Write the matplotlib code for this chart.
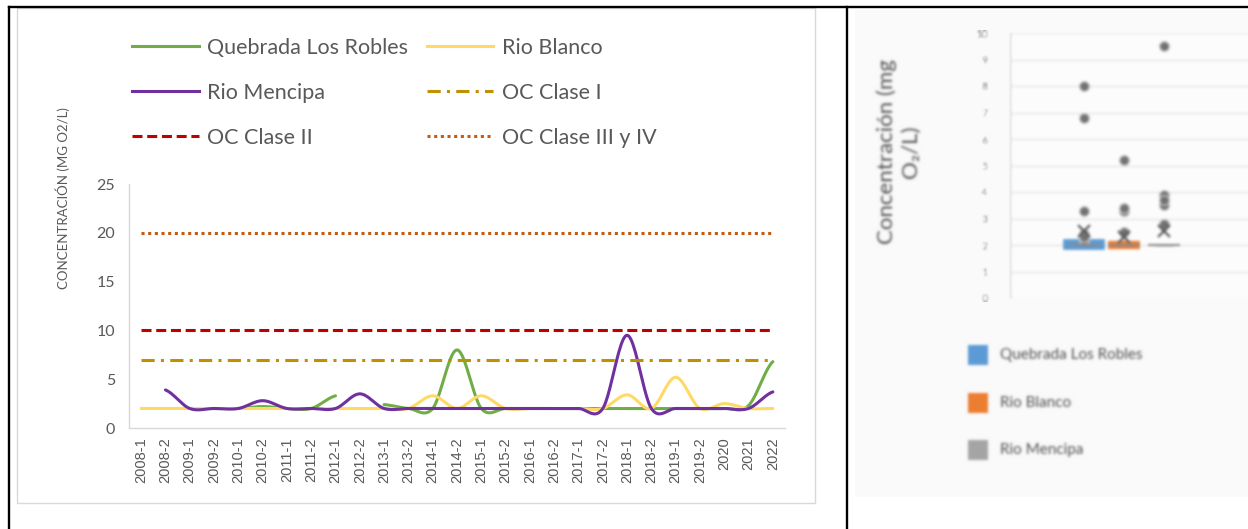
import numpy as np
import matplotlib
matplotlib.use("Agg")
import matplotlib.pyplot as plt
from matplotlib.lines import Line2D
from matplotlib.patches import Rectangle

plt.rcParams["font.family"] = ["Lato", "DejaVu Sans"]
plt.rcParams["lines.scale_dashes"] = False

nan = np.nan

# ---------------------------------------------------------------- data
periods = ["2008-1", "2008-2", "2009-1", "2009-2", "2010-1", "2010-2",
           "2011-1", "2011-2", "2012-1", "2012-2", "2013-1", "2013-2",
           "2014-1", "2014-2", "2015-1", "2015-2", "2016-1", "2016-2",
           "2017-1", "2017-2", "2018-1", "2018-2", "2019-1", "2019-2",
           "2020", "2021", "2022"]

quebrada_los_robles = [nan, nan, 2.0, 2.0, 2.0, 2.2, 2.0, 2.0, 3.3, nan,
                       2.4, 2.0, 2.0, 8.0, 2.0, 2.0, 2.0, 2.0, 2.0, 2.0,
                       2.0, 2.0, 2.0, 2.0, 2.0, 2.3, 6.8]
rio_blanco = [2.0, 2.0, 2.0, 2.0, 2.0, 2.0, 2.0, 2.0, 2.0, 2.0,
              2.0, 2.0, 3.3, 2.0, 3.3, 2.0, 2.0, 2.0, 2.0, 2.0,
              3.4, 2.0, 5.2, 2.0, 2.5, 2.0, 2.0]
rio_mencipa = [nan, 3.9, 2.0, 2.0, 2.0, 2.8, 2.0, 2.0, 2.0, 3.5,
               2.0, 2.0, 2.0, 2.0, 2.0, 2.0, 2.0, 2.0, 2.0, 2.0,
               9.5, 2.0, 2.0, 2.0, 2.0, 2.0, 3.7]

oc_clase_i = 7
oc_clase_ii = 10
oc_clase_iii_iv = 20

series_names = ["Quebrada Los Robles", "Rio Blanco", "Rio Mencipa"]

# ---------------------------------------------------------------- helpers
W, H = 1248, 529


def fx(x):
    return x / W


def fy(y):
    return 1 - y / H


def smooth(values, n=24):
    """Catmull-Rom smoothing of each contiguous run of a series."""
    y = np.asarray(values, dtype=float)
    x = np.arange(len(y), dtype=float)
    ok = np.isfinite(y)
    out_x, out_y = [], []
    i = 0
    while i < len(y):
        if not ok[i]:
            i += 1
            continue
        j = i
        while j + 1 < len(y) and ok[j + 1]:
            j += 1
        rx, ry = x[i:j + 1], y[i:j + 1]
        m = len(ry)
        if m == 1:
            out_x += [rx[0], nan]
            out_y += [ry[0], nan]
        else:
            tan = np.empty(m)
            tan[1:-1] = (ry[2:] - ry[:-2]) / 2
            tan[0] = (ry[1] - ry[0]) / 2
            tan[-1] = (ry[-1] - ry[-2]) / 2
            t = np.linspace(0, 1, n, endpoint=False)
            h00 = 2 * t**3 - 3 * t**2 + 1
            h10 = t**3 - 2 * t**2 + t
            h01 = -2 * t**3 + 3 * t**2
            h11 = t**3 - t**2
            for k in range(m - 1):
                out_x += list(rx[k] + t)
                out_y += list(h00 * ry[k] + h10 * tan[k] + h01 * ry[k + 1] + h11 * tan[k + 1])
            out_x += [rx[-1], nan]
            out_y += [ry[-1], nan]
        i = j + 1
    return np.array(out_x), np.array(out_y)


def gaussian_blur(sigma):
    r = int(np.ceil(3 * sigma))
    k = np.exp(-0.5 * (np.arange(-r, r + 1) / sigma) ** 2)
    k /= k.sum()

    def process(img, dpi):
        a = np.pad(img, ((2 * r, 2 * r), (2 * r, 2 * r), (0, 0)), mode="edge")
        h, w = a.shape[:2]
        b = np.zeros((h, w - 2 * r, img.shape[2]))
        for i, kv in enumerate(k):
            b += kv * a[:, i:i + w - 2 * r]
        c = np.zeros((h - 2 * r, w - 2 * r, img.shape[2]))
        for i, kv in enumerate(k):
            c += kv * b[i:i + h - 2 * r]
        return c[r:-r, r:-r], 0, 0

    return process


TEXT = "#595959"
GREEN, YELLOW, PURPLE = "#70ad47", "#ffd966", "#7030a0"
GOLD, RED, ORANGE = "#bf9000", "#c00000", "#c55a11"

style_series = [dict(color=GREEN), dict(color=YELLOW), dict(color=PURPLE)]
style_limits = [
    dict(color=GOLD, dashes=(9.5, 4.5, 2.2, 4.5), dash_capstyle="butt"),
    dict(color=RED, dashes=(7.2, 3.4), dash_capstyle="butt"),
    dict(color=ORANGE, dashes=(2.2, 2.6), dash_capstyle="butt"),
]
LW = 2.2

fig = plt.figure(figsize=(W / 100, H / 100), dpi=100)
fig.patch.set_facecolor("white")

# ---------------------------------------------------------------- left chart
fig.add_artist(Rectangle((fx(17), fy(503)), (815 - 17) / W, (503 - 8) / H,
                         transform=fig.transFigure, facecolor="white",
                         edgecolor="#d9d9d9", lw=1.0, zorder=0))

ax = fig.add_axes([fx(129), fy(428), (785 - 129) / W, (428 - 184) / H])
ax.set_facecolor("none")
xpos = np.arange(len(periods))

for vals, st in zip([quebrada_los_robles, rio_blanco, rio_mencipa], style_series):
    sx, sy = smooth(vals)
    ax.plot(sx, sy, lw=LW, solid_capstyle="round", **st)

for lvl, st in zip([oc_clase_i, oc_clase_ii, oc_clase_iii_iv], style_limits):
    ax.plot(xpos, np.full(len(xpos), lvl, dtype=float), lw=LW, **st)

ax.set_xlim(-0.5, len(periods) - 0.5)
ax.set_ylim(0, 25)
ax.set_yticks([0, 5, 10, 15, 20, 25])
ax.set_xticks(xpos)
ax.set_xticklabels(periods, rotation=90, ha="center", va="top",
                   fontsize=10.5, color=TEXT, family=["Liberation Sans"])
ax.tick_params(axis="x", length=0, pad=6.5)
ax.tick_params(axis="y", length=0, pad=10, labelsize=11.5, labelcolor=TEXT)
for s in ["top", "right"]:
    ax.spines[s].set_visible(False)
for s in ["left", "bottom"]:
    ax.spines[s].set_color("#d9d9d9")
    ax.spines[s].set_linewidth(1.0)

fig.text(fx(63), fy(198), "CONCENTRACIÓN (MG O2/L)", rotation=90,
         ha="center", va="center", fontsize=9.5, color=TEXT)

# legend, two columns
legend_rows = [46, 91, 136]
col_line = [(132, 199, 207), (427, 493, 502)]
legend_items = [
    (series_names[0], style_series[0]), (series_names[1], style_series[1]),
    (series_names[2], style_series[2]), ("OC Clase I", style_limits[0]),
    ("OC Clase II", style_limits[1]), ("OC Clase III y IV", style_limits[2]),
]
for k, (label, st) in enumerate(legend_items):
    row, col = divmod(k, 2)
    x0, x1, xt = col_line[col]
    yy = fy(legend_rows[row])
    fig.add_artist(Line2D([fx(x0), fx(x1)], [yy, yy], lw=LW,
                          transform=fig.transFigure, **st))
    fig.text(fx(xt), yy, label, ha="left", va="center_baseline",
             fontsize=15.5, color=TEXT)

# ---------------------------------------------------------------- right panel (box plot)
blur = gaussian_blur(1.3)

panel = fig.add_axes([fx(855), fy(497), (W - 855) / W, (497 - 10) / H])
panel.set_xlim(855, W)
panel.set_ylim(497, 10)
panel.set_xticks([])
panel.set_yticks([])
for s in panel.spines.values():
    s.set_visible(False)
panel.set_facecolor("#fafafa")
panel.text(899, 152, "Concentración (mg\nO\u2082/L)", rotation=90,
           ha="center", va="center", multialignment="center",
           fontsize=16, color="#505050", linespacing=1.25)

box_colors = ["#5b9bd5", "#ed7d31", "#a5a5a5"]
for k, (name, c) in enumerate(zip(series_names, box_colors)):
    yc = [355, 403, 450][k]
    panel.add_patch(Rectangle((968, yc - 10), 20, 20, facecolor=c,
                              edgecolor="none", zorder=2))
    panel.text(1000, yc, name, ha="left", va="center", fontsize=11,
               color="#505050", zorder=2)
panel.set_agg_filter(blur)

bx = fig.add_axes([fx(1010), fy(298), (W - 1010) / W, (298 - 33) / H])
bx.set_facecolor("#fefefe")
data = [np.array(v)[np.isfinite(v)] for v in
        [quebrada_los_robles, rio_blanco, rio_mencipa]]
bp = bx.boxplot(data, positions=[1, 2, 3], widths=0.8, showmeans=True,
                patch_artist=True,
                medianprops=dict(color="#8a8a8a", lw=1.5),
                meanprops=dict(marker="x", markeredgecolor="#595959",
                               markersize=8, markeredgewidth=1.6),
                whiskerprops=dict(color="#8a8a8a", lw=1),
                capprops=dict(color="#8a8a8a", lw=1),
                flierprops=dict(marker="o", markerfacecolor="#707070",
                                markeredgecolor="#c8c8c8", markersize=7))
for patch, c, lw in zip(bp["boxes"], box_colors, [7, 6, 1.5]):
    patch.set_facecolor(c)
    patch.set_edgecolor(c)
    patch.set_linewidth(lw)
bx.set_xlim(1 - 74 / 40, 1 - 74 / 40 + (W - 1010) / 40)
bx.set_ylim(0, 10)
bx.set_yticks(range(0, 11))
bx.set_xticks([])
bx.grid(axis="y", color="#e2e2e2", lw=1.0)
bx.set_axisbelow(True)
bx.tick_params(axis="y", length=0, pad=16, labelsize=8, labelcolor="#595959")
for s in ["top", "right", "bottom"]:
    bx.spines[s].set_visible(False)
bx.spines["left"].set_color("#d0d0d0")
bx.set_agg_filter(blur)

# ---------------------------------------------------------------- table rules
for xs, ys in [([fx(9), 1], [fy(7), fy(7)]),
               ([fx(9), fx(9)], [0, fy(7)]),
               ([fx(847), fx(847)], [0, fy(7)])]:
    fig.add_artist(Line2D(xs, ys, color="black", lw=1.7,
                          transform=fig.transFigure, zorder=10))

fig.savefig("out.png", dpi=100, facecolor="white")
